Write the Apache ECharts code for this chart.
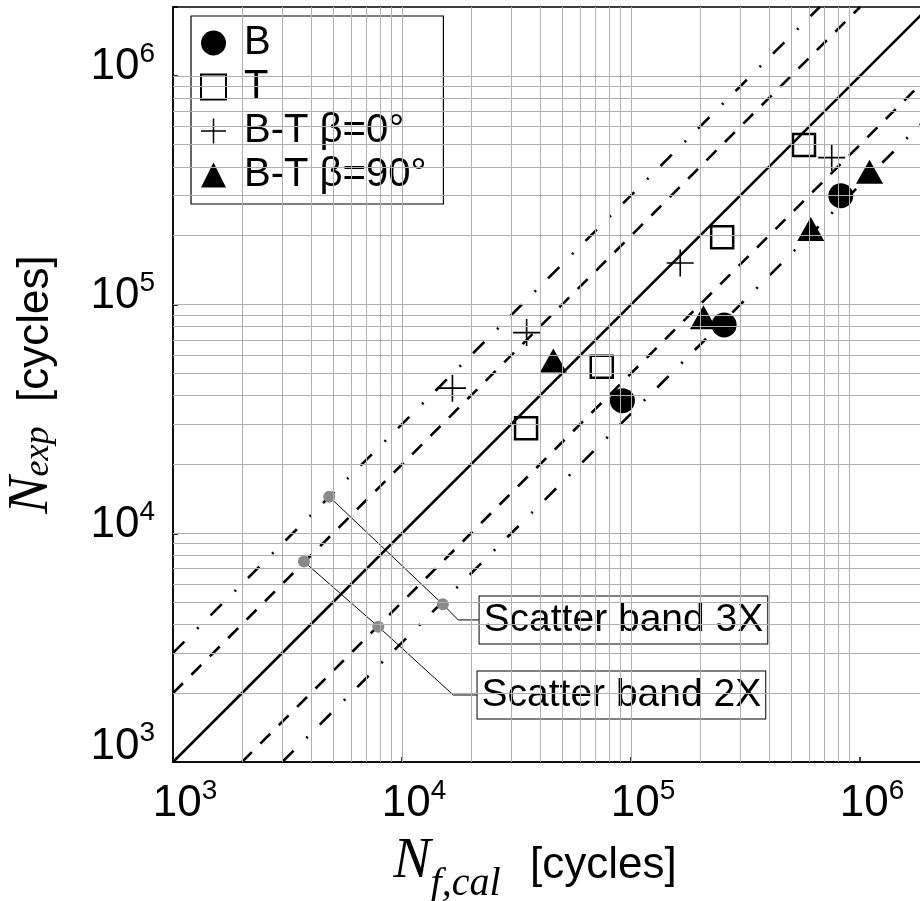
<!DOCTYPE html>
<html><head><meta charset="utf-8">
<script src="https://cdn.jsdelivr.net/npm/echarts@6/dist/echarts.min.js"></script>
<style>html,body{margin:0;padding:0;background:#fff}#c{width:920px;height:901px}</style>
</head><body><div id="c"></div>
<script>
// ---- data ----
const seriesNames = ['B', 'T', 'B-T β=0°', 'B-T β=90°'];
const B_nfcal = [9.17e4, 2.55e5, 8.24e5];
const B_nexp  = [3.80e4, 8.15e4, 2.99e5];
const T_nfcal = [3.48e4, 7.45e4, 2.50e5, 5.69e5];
const T_nexp  = [2.88e4, 5.35e4, 1.97e5, 4.99e5];
const BT0_nfcal = [1.66e4, 3.50e4, 1.64e5, 7.52e5];
const BT0_nexp  = [4.31e4, 7.54e4, 1.52e5, 4.39e5];
const BT90_nfcal = [4.58e4, 2.07e5, 6.09e5, 1.10e6];
const BT90_nexp  = [5.69e4, 8.81e4, 2.14e5, 3.81e5];

const axisMin = 1e3, axisMax = 2e6;
const tickExponents = [3, 4, 5, 6];
const tickBase = '10';

const solidFactors = [1];
const band2Factors = [2, 0.5];
const band3Factors = [3, 1 / 3];

const band3Label = 'Scatter band 3X';
const band3Leader = [[4.81e3, 1.445e4], [1.507e4, 4.89e3], [1.76e4, 4.18e3], [2.17e4, 4.18e3]];
const band2Label = 'Scatter band 2X';
const band2Leader = [[3.73e3, 7.52e3], [7.88e3, 3.905e3], [1.675e4, 1.963e3], [2.126e4, 1.963e3]];

const xNameParts = ['N', 'f,cal', '[cycles]'];
const yNameParts = ['N', 'exp', '[cycles]'];

// ---- helpers ----
const SANS = '"Liberation Sans", Arial, sans-serif';
const SERIF = '"Liberation Serif", "Times New Roman", serif';
const pts = (xs, ys) => xs.map((x, i) => [x, ys[i]]);
function decadeGrid(maxVal) {
  const out = [];
  for (let e = 3; e <= 5; e++) for (let m = 1; m <= 9; m++) {
    const v = m * Math.pow(10, e);
    if (v > axisMin && v <= maxVal) out.push(v);
  }
  return out;
}
const vGrid = decadeGrid(9e5);
const hGrid = decadeGrid(9e5).concat([1e6]);
function diag(f) {
  const x0 = Math.max(axisMin, axisMin / f), x1 = Math.min(axisMax, axisMax / f);
  return [[x0, x0 * f], [x1, x1 * f]];
}
function expOf(v) {
  const e = Math.round(Math.log10(v));
  if (Math.abs(Math.pow(10, e) - v) > 1e-6 * v) return null;
  return tickExponents.indexOf(e) >= 0 ? e : null;
}
const plusPath = 'path://M47,0H53V47H100V53H53V100H47V53H0V47H47Z';

const series = [];
// grid lines
series.push({
  type: 'line', name: '_grid', data: [], z: 1, silent: true,
  markLine: {
    silent: true, symbol: ['none', 'none'], label: { show: false },
    lineStyle: { color: '#b0b0b0', width: 1, type: 'solid' },
    emphasis: { disabled: true },
    data: vGrid.map(v => ({ xAxis: v })).concat(hGrid.map(v => ({ yAxis: v })))
  }
});
// scatter data
const solid = { color: '#000', opacity: 1 };
series.push({ type: 'scatter', name: seriesNames[0], data: pts(B_nfcal, B_nexp), z: 2,
  symbol: 'circle', symbolSize: 25, itemStyle: solid });
series.push({ type: 'scatter', name: seriesNames[1], data: pts(T_nfcal, T_nexp), z: 2,
  symbol: 'rect', symbolSize: 22, itemStyle: { color: '#fff', opacity: 1, borderColor: '#000', borderWidth: 2.5 } });
series.push({ type: 'scatter', name: seriesNames[2], data: pts(BT0_nfcal, BT0_nexp), z: 2,
  symbol: plusPath, symbolSize: 27, itemStyle: solid });
series.push({ type: 'scatter', name: seriesNames[3], data: pts(BT90_nfcal, BT90_nexp), z: 2,
  symbol: 'triangle', symbolSize: [27, 24], itemStyle: solid });
// scatter band lines
function bandLine(f, type) {
  return { type: 'line', data: diag(f), z: 3, symbol: 'none', showSymbol: false, silent: true,
    lineStyle: { color: '#000', width: 2.6, type: type, cap: 'butt' } };
}
solidFactors.forEach(f => series.push(bandLine(f, 'solid')));
band2Factors.forEach(f => series.push(bandLine(f, [14, 12])));
band3Factors.forEach(f => series.push(bandLine(f, [16, 18, 2, 17])));
// leaders with labels
function leader(points, text) {
  const data = points.map((p, i) => {
    if (i < 2) return { value: p, symbol: 'circle', symbolSize: 12 };
    if (i < points.length - 1) return { value: p, symbol: 'none' };
    return { value: p, symbol: 'circle', symbolSize: 1, itemStyle: { color: 'rgba(0,0,0,0)' },
      label: { show: true, position: 'right', distance: 0, formatter: text, color: '#000',
        fontFamily: SANS, fontSize: 39, lineHeight: 39, backgroundColor: '#fff',
        borderColor: '#000', borderWidth: 1, padding: [4, 4, 4, 4] } };
  });
  return { type: 'line', data: data, z: 4, silent: true, symbol: 'circle',
    itemStyle: { color: '#8a8a8a', opacity: 1 }, lineStyle: { color: '#000', width: 1 }, label: { show: false } };
}
series.push(leader(band3Leader, band3Label));
series.push(leader(band2Leader, band2Label));

const supRich = {
  b: { fontFamily: SANS, fontSize: 44, lineHeight: 49, verticalAlign: 'bottom', color: '#000' },
  b3: { fontFamily: SANS, fontSize: 44, lineHeight: 63, verticalAlign: 'bottom', padding: [0, 0, 14, 0], color: '#000' },
  s: { fontFamily: SANS, fontSize: 28, lineHeight: 49, verticalAlign: 'top', color: '#000' }
};

const option = {
  animation: false,
  backgroundColor: '#fff',
  grid: { left: 173, top: 7, width: 756, height: 755, show: true, borderColor: '#000', borderWidth: 1.5,
    containLabel: false, outerBoundsMode: 'none' },
  legend: {
    data: seriesNames, orient: 'vertical', left: 191, top: 16,
    padding: [7, 17, 9, 9], itemGap: 4, itemWidth: 25, itemHeight: 25,
    backgroundColor: '#fff', borderColor: '#000', borderWidth: 1.2, borderRadius: 0,
    selectedMode: false,
    textStyle: { fontFamily: SANS, fontSize: 40, lineHeight: 40, color: '#000', padding: [0, 0, 0, 13] }
  },
  xAxis: {
    type: 'log', logBase: 10, min: axisMin, max: axisMax,
    axisLine: { show: true, lineStyle: { color: '#000', width: 1.5 } },
    axisTick: { show: true, inside: true, length: 5, lineStyle: { color: '#000', width: 1.5 } },
    splitLine: { show: false }, minorTick: { show: false },
    axisLabel: {
      margin: 15, padding: [0, 0, 0, 24], color: '#000',
      formatter: v => { const e = expOf(v); return e === null ? '' : '{b|' + tickBase + '}{s|' + e + '}'; },
      rich: supRich
    },
    name: '{n|' + xNameParts[0] + '}{sub|' + xNameParts[1] + '}{u|  ' + xNameParts[2] + '}',
    nameLocation: 'middle', nameGap: 72,
    nameTextStyle: {
      padding: [0, 32, 0, 0],
      rich: {
        n: { fontFamily: SERIF, fontStyle: 'italic', fontSize: 56, lineHeight: 70, verticalAlign: 'top', color: '#000' },
        sub: { fontFamily: SERIF, fontStyle: 'italic', fontSize: 40, lineHeight: 70, verticalAlign: 'bottom', color: '#000' },
        u: { fontFamily: SANS, fontSize: 44, lineHeight: 70, verticalAlign: 'top', padding: [10, 0, 0, 5], color: '#000' }
      }
    }
  },
  yAxis: {
    type: 'log', logBase: 10, min: axisMin, max: axisMax,
    axisLine: { show: true, lineStyle: { color: '#000', width: 1.5 } },
    axisTick: { show: true, inside: true, length: 5, lineStyle: { color: '#000', width: 1.5 } },
    splitLine: { show: false }, minorTick: { show: false },
    axisLabel: {
      margin: 18, padding: [0, 0, 22, 0], color: '#000',
      formatter: v => { const e = expOf(v); if (e === null) return ''; return (e === tickExponents[0] ? '{b3|' : '{b|') + tickBase + '}{s|' + e + '}'; },
      rich: supRich
    },
    name: '{n|' + yNameParts[0] + '}{sub|' + yNameParts[1] + '}{u|  ' + yNameParts[2] + '}',
    nameLocation: 'middle', nameGap: 113,
    nameTextStyle: {
      rich: {
        n: { fontFamily: SERIF, fontStyle: 'italic', fontSize: 56, lineHeight: 56, color: '#000' },
        sub: { fontFamily: SERIF, fontStyle: 'italic', fontSize: 36, lineHeight: 56, verticalAlign: 'top', padding: [17, 0, 0, 0], color: '#000' },
        u: { fontFamily: SANS, fontSize: 44, lineHeight: 56, verticalAlign: 'top', padding: [10, 0, 0, 0], color: '#000' }
      }
    }
  },
  series: series
};
const chart = echarts.init(document.getElementById('c'), null, { renderer: 'canvas' });
chart.setOption(option);
</script>
</body></html>
